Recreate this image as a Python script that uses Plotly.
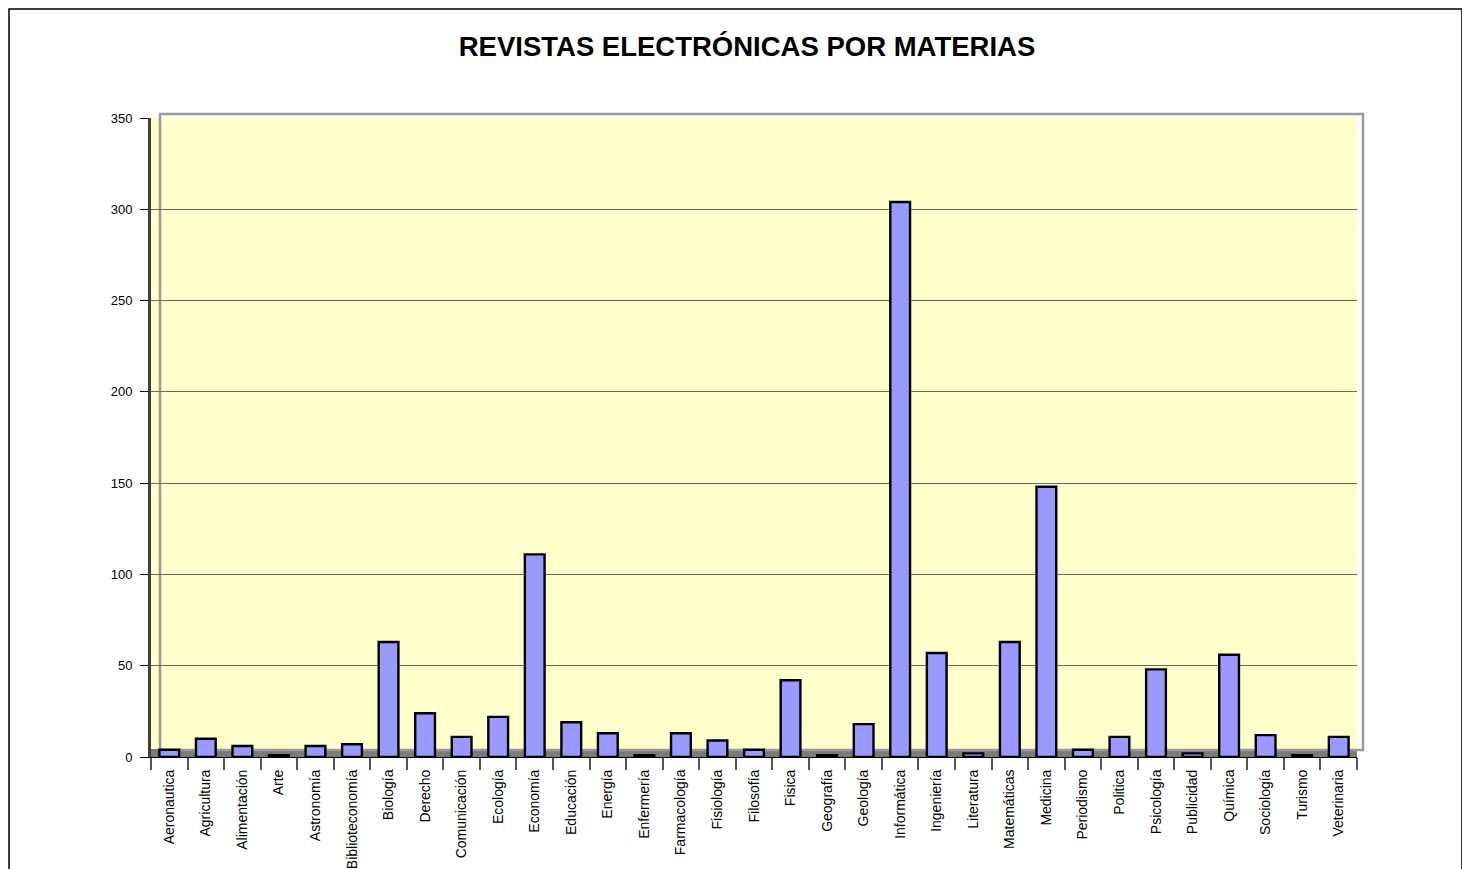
import plotly.graph_objects as go

categories = ["Aeronautica", "Agricultura", "Alimentación", "Arte", "Astronomía",
              "Biblioteconomía", "Biología", "Derecho", "Comunicación", "Ecología",
              "Economía", "Educación", "Energía", "Enfermería", "Farmacología",
              "Fisiología", "Filosofía", "Fisica", "Geografía", "Geología",
              "Informática", "Ingeniería", "Literatura", "Matemáticas", "Medicina",
              "Periodismo", "Politica", "Psicología", "Publicidad", "Química",
              "Sociología", "Turismo", "Veterinaria"]
values = [4, 10, 6, 1, 6,
          7, 63, 24, 11, 22,
          111, 19, 13, 1, 13,
          9, 4, 42, 1, 18,
          304, 57, 2, 63, 148,
          4, 11, 48, 2, 56,
          12, 1, 11]
y_ticks = [0, 50, 100, 150, 200, 250, 300, 350]

# page has an 8px body margin; work in figure coordinates
OFF = 8
W, H = 1470 - OFF, 869 - OFF
L, R, T, B = 151 - OFF, 1357 - OFF, 118 - OFF, 757 - OFF
pw, ph = R - L, B - T

def px_x(x):
    return (x - OFF - L) / pw

def px_y(y):
    return (B - (y - OFF)) / ph

FONT = "Liberation Sans, Arial, sans-serif"

fig = go.Figure()
fig.add_trace(go.Bar(
    x=categories, y=values,
    marker=dict(color="#9999FF", line=dict(color="#000000", width=2.4)),
    hoverinfo="x+y",
))

shapes = [
    # floor band
    dict(type="rect", xref="paper", yref="paper", x0=0, x1=1, y0=0, y1=px_y(749),
         fillcolor="#7a7a7a", line=dict(width=0), layer="below"),
    # back wall border
    dict(type="rect", xref="paper", yref="paper", x0=px_x(160), x1=px_x(1363),
         y0=px_y(750), y1=px_y(114), line=dict(color="#999999", width=2.5),
         fillcolor="rgba(0,0,0,0)", layer="below"),
    # outer border
    dict(type="rect", xref="paper", yref="paper", x0=px_x(9), x1=px_x(1462),
         y0=px_y(900), y1=px_y(9), line=dict(color="#000000", width=1.5),
         fillcolor="rgba(0,0,0,0)", layer="above"),
]

fig.update_layout(
    width=W, height=H,
    margin=dict(l=L, r=W - R, t=T, b=H - B, pad=0),
    paper_bgcolor="#FFFFFF",
    plot_bgcolor="#FFFFCC",
    bargap=0.46,
    showlegend=False,
    font=dict(family=FONT, size=12, color="#000000"),
    title=dict(text="<b>REVISTAS ELECTRÓNICAS POR MATERIAS</b>",
               x=(747 - OFF) / W, xanchor="center", y=1 - (46 - OFF) / H, yanchor="middle",
               yref="container", font=dict(family=FONT, size=27.5, color="#000000")),
    shapes=shapes,
)
fig.update_yaxes(
    range=[0, 350], tickvals=y_ticks, ticks="outside", ticklen=8,
    tickcolor="#000000", tickwidth=1, ticklabelstandoff=5,
    showgrid=True, gridcolor="#6b6b5c", gridwidth=1.2,
    showline=True, linecolor="#404040", linewidth=3,
    zeroline=False, tickfont=dict(family=FONT, size=13),
    fixedrange=True,
)
fig.update_xaxes(
    tickangle=-90, ticks="outside", tickson="boundaries", ticklen=12,
    tickcolor="#555555", tickwidth=1.5, ticklabelstandoff=6,
    showline=True, linecolor="#000000", linewidth=1,
    automargin=False, tickfont=dict(family=FONT, size=14),
    fixedrange=True,
)

fig.write_html("out.html")
